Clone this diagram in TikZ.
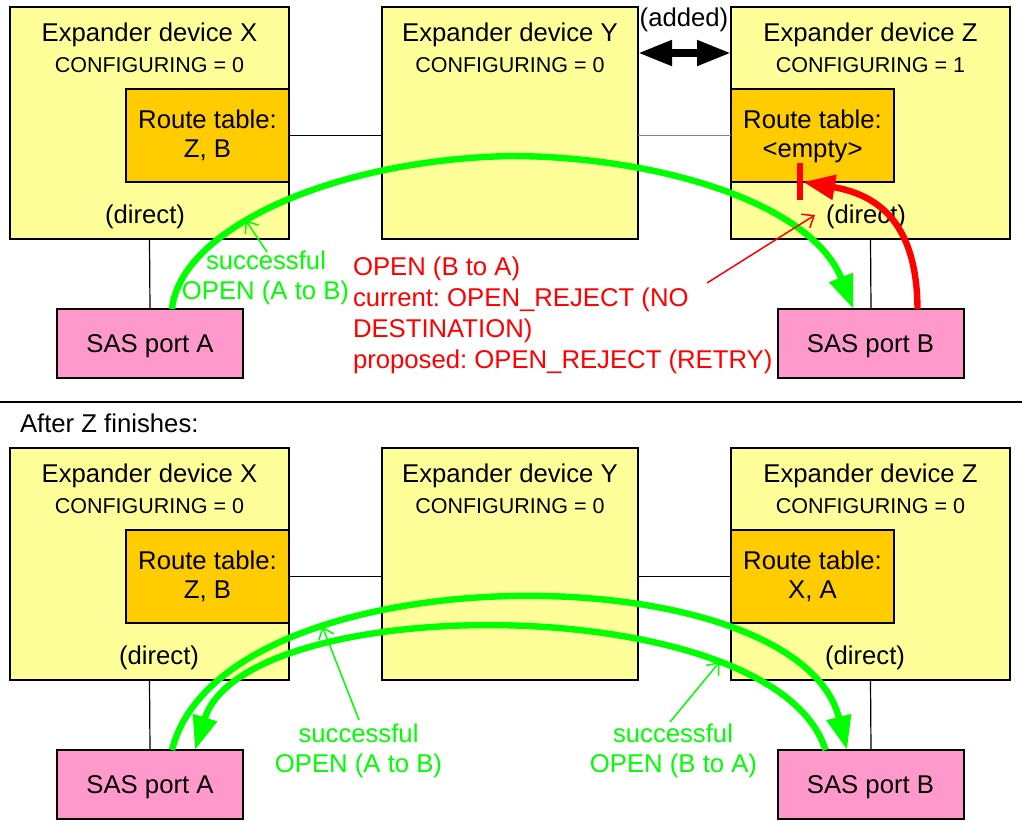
\documentclass[tikz,border=0pt]{standalone}
\usepackage{fontspec}
\setmainfont{Liberation Sans}
\usetikzlibrary{arrows.meta,calc}
\definecolor{boxyellow}{HTML}{FFFF99}
\definecolor{tableorange}{HTML}{FFCC00}
\definecolor{portpink}{HTML}{FF99CC}
\definecolor{okgreen}{HTML}{00FF00}
\definecolor{badred}{HTML}{FF0000}
\frenchspacing

\begin{document}
\begin{tikzpicture}[x=0.5pt,y=-0.5pt,
  every node/.style={inner sep=0pt,outer sep=0pt},
  bigtxt/.style={font=\fontsize{12.85}{15}\selectfont,anchor=base},
  smalltxt/.style={font=\fontsize{10.75}{13}\selectfont,anchor=base},
  expbox/.style={draw,line width=1pt,fill=boxyellow,anchor=north west,minimum height=116pt},
  widebox/.style={expbox,minimum width=139.5pt},
  midbox/.style={expbox,minimum width=128pt},
  routebox/.style={draw,line width=1pt,fill=tableorange,anchor=north west,minimum width=81.5pt,minimum height=46.5pt},
  portbox/.style={draw,line width=1pt,fill=portpink,anchor=north west,minimum width=93pt,minimum height=34.5pt},
  link/.style={line width=0.6pt},
  gthick/.style={draw=okgreen,line width=3.2pt,-{Triangle[length=17pt,width=12pt]}},
  rthick/.style={draw=badred,line width=3.2pt},
  gthin/.style={draw=okgreen,line width=0.75pt,-{Straight Barb[length=5pt,width=8pt]}},
  rthin/.style={draw=badred,line width=0.75pt,-{Straight Barb[length=5pt,width=8pt]}},
  gnote/.style={bigtxt,text=okgreen},
  rnote/.style={font=\fontsize{12.85}{15}\selectfont,anchor=base west,text=badred}
]
\fill[white] (0,0) rectangle (1022,821);
\useasboundingbox (0,0) rectangle (1022,821);

% ---------------- before Z finishes ----------------
\node[widebox] (tX) at (10,7) {};
\node[midbox]  (tY) at (382,7) {};
\node[widebox] (tZ) at (731,7) {};
\node[routebox] (tRTX) at (126,89) {};
\node[routebox] (tRTZ) at (731,89) {};
\node[portbox] (tPA) at (57,309) {};
\node[portbox] (tPB) at (778,309) {};

\draw[link] (tRTX.east) -- (tY.west |- tRTX.east);
\draw[link,gray] (tY.east |- tRTZ.west) -- (tRTZ.west);
\draw[link] (tX.south) -- (tPA.north);
\draw[link] (tZ.south) -- (tPB.north);

\node[bigtxt]   (tXt) at (149.5,41) {Expander device X};
\node[smalltxt] (tXc) at (149.5,72) {CONFIGURING = 0};
\node[bigtxt]   (tRTXa) at (207.5,128) {Route table:};
\node[bigtxt]   (tRTXb) at (207.5,157) {Z, B};
\node[bigtxt]   (tXd) at (145,223) {(direct)};

\node[bigtxt]   (tYt) at (510,41) {Expander device Y};
\node[smalltxt] (tYc) at (510,72) {CONFIGURING = 0};

\node[bigtxt]   (tZt) at (870.5,41) {Expander device Z};
\node[smalltxt] (tZc) at (870.5,72) {CONFIGURING = 1};
\node[bigtxt]   (tRTZa) at (812.5,128) {Route table:};
\node[bigtxt]   (tRTZb) at (812.5,157) {<empty>};
\node[bigtxt]   (tZd) at (866,223) {(direct)};

\node[bigtxt] (tPAt) at (150,352) {SAS port A};
\node[bigtxt] (tPBt) at (870.5,352) {SAS port B};

% new link between Y and Z
\node[bigtxt] (tadded) at (684,26) {(added)};
\coordinate (taddedrow) at (0,53);
\draw[line width=3.8pt,{Triangle[length=17pt,width=12pt]}-{Triangle[length=17pt,width=12pt]}]
  (tY.east |- taddedrow) -- (tZ.west |- taddedrow);

% successful OPEN from A to B
\coordinate (tGtop) at (510,156);
\draw[gthick] ($(tPA.north)+(22,0)$) .. controls (180,230) and (330,160) .. (tGtop)
  node[pos=0.41,coordinate] (tGmark) {}
  .. controls (650,156) and (810,200) .. ($(tPB.north)+(-17.5,0)$);
\node[gnote] (tGn1) at (266,269) {successful};
\node[gnote] (tGn2) at (265.5,299) {OPEN (A to B)};
\coordinate (tGfrom) at (267,252);
\draw[gthin] (tGfrom) -- (tGmark);

% rejected OPEN from B to A
\coordinate (tbar) at (800,182);
\coordinate (tbarTop) at (800,163);
\coordinate (tbarBot) at (800,200);
\draw[rthick] (tbarTop) -- (tbarBot);
\draw[rthick,-{Triangle[length=16pt,width=12pt]}] ($(tPB.north)+(46.5,0)$) .. controls (917,225) and (880,195) .. ($(tbar)+(3,0)$);

\node[rnote] (tR1) at (353,275) {OPEN (B to A)};
\node[rnote] (tR2) at (353,306) {current: OPEN\_REJECT (NO};
\node[rnote] (tR3) at (353,337) {DESTINATION)};
\node[rnote] (tR4) at (353,368) {proposed: OPEN\_REJECT (RETRY)};
\coordinate (tRfrom) at (707,283);
\coordinate (tRto) at (815,215);
\draw[rthin] (tRfrom) -- (tRto);

% ---------------- separator ----------------
\coordinate (sepL) at (0,402);
\coordinate (sepR) at (1022,402);
\draw[line width=1pt] (sepL) -- (sepR);
\node[bigtxt,anchor=base west] (after) at (20,432) {After Z finishes:};

% ---------------- after Z finishes ----------------
\node[widebox] (bX) at (10,448) {};
\node[midbox]  (bY) at (382,448) {};
\node[widebox] (bZ) at (731,448) {};
\node[routebox] (bRTX) at (126,530) {};
\node[routebox] (bRTZ) at (731,530) {};
\node[portbox] (bPA) at (57,750) {};
\node[portbox] (bPB) at (778,750) {};

\draw[link] (bRTX.east) -- (bY.west |- bRTX.east);
\draw[link] (bY.east |- bRTZ.west) -- (bRTZ.west);
\draw[link] (bX.south) -- (bPA.north);
\draw[link] (bZ.south) -- (bPB.north);

\node[bigtxt]   (bXt) at (149.5,482) {Expander device X};
\node[smalltxt] (bXc) at (149.5,513) {CONFIGURING = 0};
\node[bigtxt]   (bRTXa) at (207.5,569) {Route table:};
\node[bigtxt]   (bRTXb) at (207.5,598) {Z, B};
\node[bigtxt]   (bXd) at (159,664) {(direct)};

\node[bigtxt]   (bYt) at (510,482) {Expander device Y};
\node[smalltxt] (bYc) at (510,513) {CONFIGURING = 0};

\node[bigtxt]   (bZt) at (870.5,482) {Expander device Z};
\node[smalltxt] (bZc) at (870.5,513) {CONFIGURING = 0};
\node[bigtxt]   (bRTZa) at (812.5,569) {Route table:};
\node[bigtxt]   (bRTZb) at (812.5,598) {X, A};
\node[bigtxt]   (bZd) at (865,664) {(direct)};

\node[bigtxt] (bPAt) at (150,793) {SAS port A};
\node[bigtxt] (bPBt) at (870.5,793) {SAS port B};

% OPEN A to B (outer arc) and B to A (inner arc)
\draw[gthick] ($(bPA.north)+(22,0)$) .. controls (222,550) and (797,550) .. ($(bPB.north)+(-24,0)$)
  node[pos=0.29,coordinate] (bOuterMark) {};
\draw[gthick] ($(bPB.north)+(-45.5,0)$) .. controls (775,589) and (245,589) .. ($(bPA.north)+(45,0)$)
  node[pos=0.24,coordinate] (bInnerMark) {};

\node[gnote] (bGa1) at (358.5,742) {successful};
\node[gnote] (bGa2) at (358.5,772) {OPEN (A to B)};
\node[gnote] (bGb1) at (673,742) {successful};
\node[gnote] (bGb2) at (673.5,772) {OPEN (B to A)};
\coordinate (bGaFrom) at (359,720);
\coordinate (bGbFrom) at (670,722);
\draw[gthin] (bGaFrom) -- (bOuterMark);
\draw[gthin] (bGbFrom) -- (bInnerMark);
\end{tikzpicture}
\end{document}
